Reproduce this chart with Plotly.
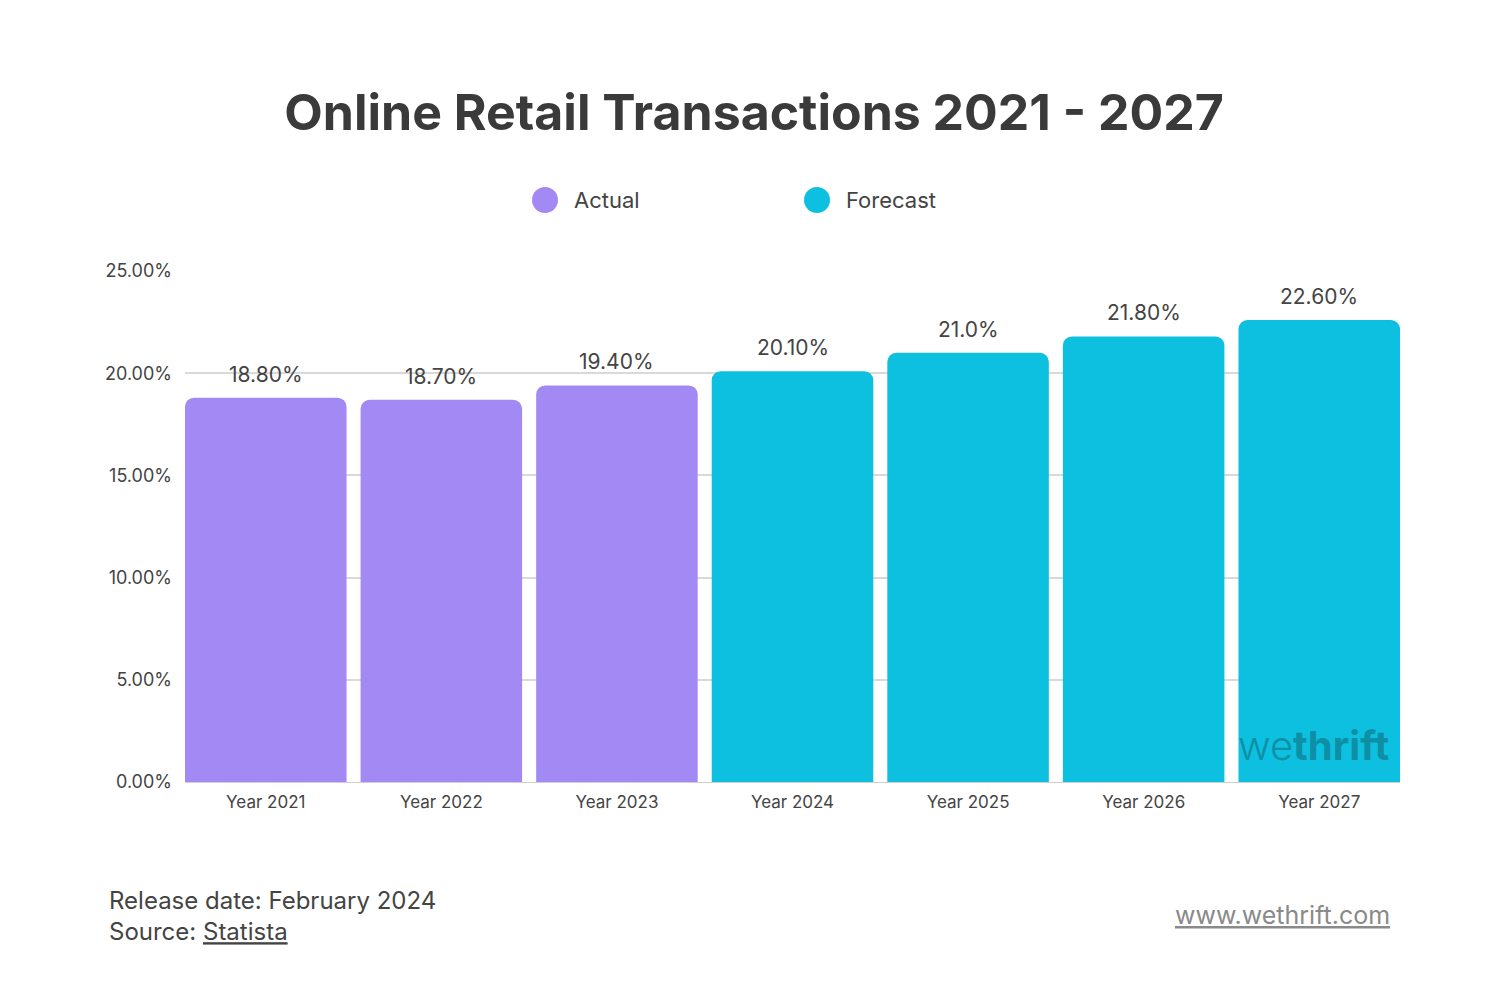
import plotly.graph_objects as go

years = ['Year 2021', 'Year 2022', 'Year 2023', 'Year 2024', 'Year 2025', 'Year 2026', 'Year 2027']
share = [18.8, 18.7, 19.4, 20.1, 21.0, 21.8, 22.6]
labels = ['18.80%', '18.70%', '19.40%', '20.10%', '21.0%', '21.80%', '22.60%']
kind = ['Actual', 'Actual', 'Actual', 'Forecast', 'Forecast', 'Forecast', 'Forecast']

colors = {'Actual': '#A389F4', 'Forecast': '#0DC0DF'}
text_col = '#444444'

# page pixel -> paper coords (plot area spans x 185..1400, y 271..782 on the page)
def px(x):
    return (x - 185) / 1215

def py(y):
    return (782 - y) / 511

fig = go.Figure()
fig.add_trace(go.Bar(
    x=years, y=share,
    marker=dict(color=[colors[k] for k in kind], line=dict(width=0)),
    showlegend=False, hoverinfo='x+y',
))

# value labels above the bars
for yr, v, lab in zip(years, share, labels):
    fig.add_annotation(x=yr, y=v, text=lab, xref='x', yref='y',
                       yanchor='bottom', yshift=9, showarrow=False,
                       font=dict(family='Inter', size=21, color=text_col))

fig.update_layout(
    width=1492, height=992,
    paper_bgcolor='white', plot_bgcolor='white',
    margin=dict(l=177, r=100, t=263, b=218),
    bargap=0.08, barcornerradius=9,
    font=dict(family='Inter', color=text_col),
    title=dict(text='<b>Online Retail Transactions 2021 - 2027</b>',
               x=0.5, xanchor='center', y=1 - (112 - 8) / 992, yanchor='middle',
               font=dict(family='Inter', size=50, color='#3a3a3a')),
    xaxis=dict(showgrid=False, tickfont=dict(size=17, color=text_col),
               range=[-0.46, 6.46], ticklabelstandoff=5,
               ticks='', showline=True, linecolor='#cfcfcf', linewidth=1),
    yaxis=dict(range=[0, 25], dtick=5, tickformat='.2f', ticksuffix='%',
               gridcolor='#d9d9d9', gridwidth=1.5, zeroline=False,
               tickfont=dict(size=18, color=text_col), ticklabelstandoff=12),
)

# legend drawn by hand (circles + labels)
for cx, name in [(545, 'Actual'), (817, 'Forecast')]:
    fig.add_shape(type='circle', xref='paper', yref='paper',
                  x0=px(cx - 13), x1=px(cx + 13), y0=py(213), y1=py(187),
                  fillcolor=colors[name], line=dict(width=0))
    fig.add_annotation(text=name, xref='paper', yref='paper',
                       x=px(cx + 27), y=py(200),
                       xanchor='left', yanchor='middle', showarrow=False,
                       font=dict(family='Inter', size=22, color=text_col))

# watermark in last bar
fig.add_annotation(text="<span style='font-weight:300'>we</span><b>thrift</b>",
                   x='Year 2027', y=0.5, xref='x', yref='y', xshift=72,
                   xanchor='right', yanchor='bottom', showarrow=False,
                   font=dict(family='Inter', size=40, color='#0E8FA5'))

# footer
fig.add_annotation(text='Release date: February 2024<br>Source: <u>Statista</u>',
                   xref='paper', yref='paper', x=px(107), y=py(916),
                   xanchor='left', yanchor='middle', align='left', showarrow=False,
                   font=dict(family='Inter', size=24, color=text_col))
fig.add_annotation(text='<u>www.wethrift.com</u>',
                   xref='paper', yref='paper', x=px(1392), y=py(915),
                   xanchor='right', yanchor='middle', showarrow=False,
                   font=dict(family='Inter', size=25, color='#8a8a8a'))

fig.write_html('out.html')
